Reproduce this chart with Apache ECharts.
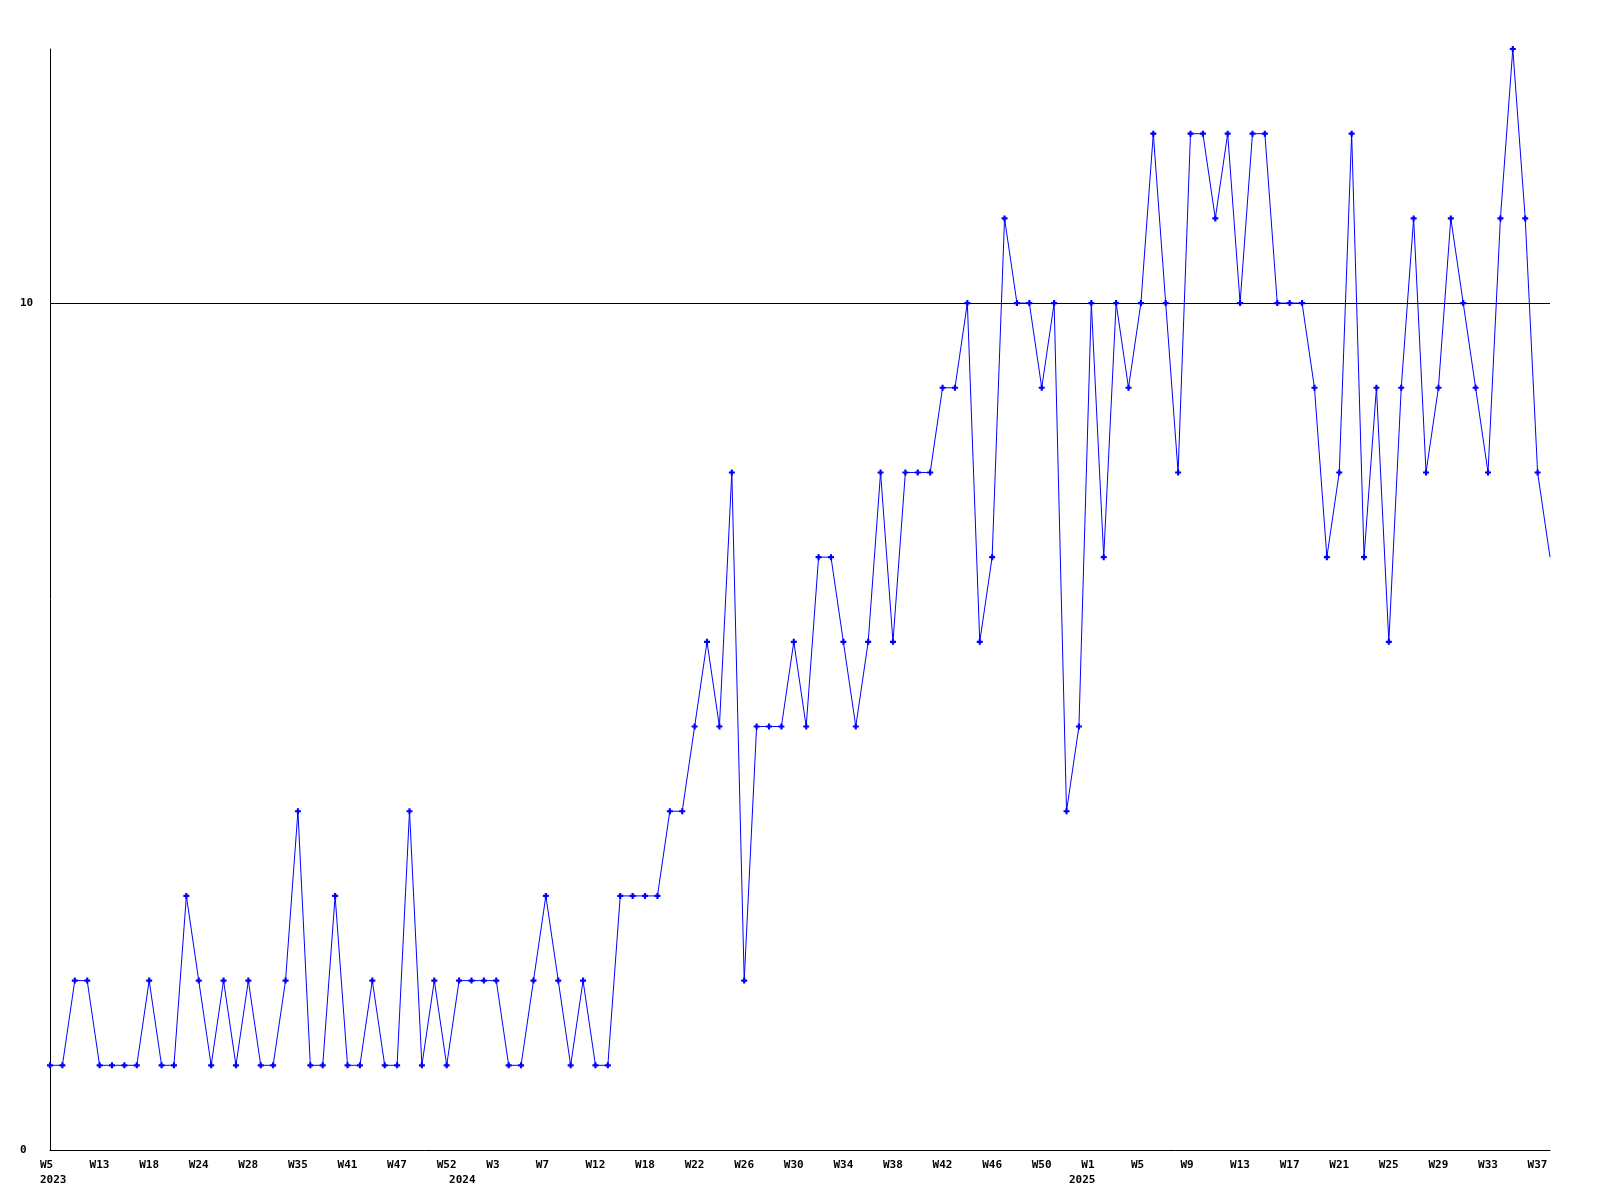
<!DOCTYPE html>
<html>
<head>
<meta charset="utf-8">
<script src="https://cdn.jsdelivr.net/npm/echarts@6/dist/echarts.min.js"></script>
<style>
  html, body { margin: 0; padding: 0; background: #ffffff; }
  #chart { width: 1600px; height: 1200px; }
</style>
</head>
<body>
<div id="chart"></div>
<script>
// Week numbers (per year) of each data point
const weeks2023 = [5,7,9,11,13,14,15,17,18,20,21,23,24,25,26,27,28,30,31,33,35,36,38,39,41,42,44,45,47,48,49,51,52];
const weeks2024 = [0,1,2,3,4,5,6,7,8,10,11,12,14,15,17,18,19,20,21,22,23,24,25,26,27,28,29,30,31,32,33,34,35,36,37,38,39,40,41,42,43,44,45,46,47,48,49,50,51,52];
const weeks2025 = [0,1,2,3,4,5,6,7,8,9,10,11,12,13,14,15,16,17,18,19,20,21,22,23,24,25,26,27,28,29,30,31,32,33,34,35,36,37,38];

// Values per point
const values = [
  1,1,2,2,1,1,1,1,2,1,
  1,3,2,1,2,1,2,1,1,2,
  4,1,1,3,1,1,2,1,1,4,
  1,2,1,2,2,2,2,1,1,2,
  3,2,1,2,1,1,3,3,3,3,
  4,4,5,6,5,8,2,5,5,5,
  6,5,7,7,6,5,6,8,6,8,
  8,8,9,9,10,6,7,11,10,10,
  9,10,4,5,10,7,10,9,10,12,
  10,8,12,12,11,12,10,12,12,10,
  10,10,9,7,8,12,7,9,6,9,
  11,8,9,11,10,9,8,11,13,11,
  8,7
];

const yTickLabels = ['0', '10'];

const categories = [];
const yearOf = [];
[[2023, weeks2023], [2024, weeks2024], [2025, weeks2025]].forEach(([y, ws]) => {
  ws.forEach(w => { categories.push(y + '-W' + w); yearOf.push(y); });
});
const yearStart = new Set();
yearOf.forEach((y, i) => { if (i === 0 || yearOf[i - 1] !== y) yearStart.add(i); });

const seriesData = values.map((v, i) => (i === values.length - 1 ? { value: v, symbol: 'none' } : v));

const chart = echarts.init(document.getElementById('chart'), null, { renderer: 'canvas' });
const font = '"DejaVu Sans Mono", "Liberation Mono", monospace';
chart.setOption({
  backgroundColor: '#ffffff',
  animation: false,
  grid: { left: 50, right: 50, top: 49, bottom: 50, containLabel: false },
  xAxis: {
    type: 'category',
    data: categories,
    boundaryGap: false,
    axisLine: { show: true, lineStyle: { color: '#000000', width: 1 } },
    axisTick: { show: false },
    splitLine: { show: false },
    axisLabel: {
      interval: (i) => i % 4 === 0 || yearStart.has(i),
      align: 'left',
      padding: [0, 0, 0, -10],
      margin: 8,
      color: '#000000',
      fontFamily: font,
      fontWeight: 'bold',
      fontSize: 11,
      lineHeight: 15,
      verticalAlign: 'top',
      formatter: (val, i) => {
        const wk = val.split('-')[1];
        const top = i % 4 === 0 ? wk : '';
        return yearStart.has(i) ? top + '\n' + yearOf[i] : top;
      }
    }
  },
  yAxis: {
    type: 'value',
    min: 0,
    max: 13,
    interval: 10,
    axisLine: { show: true, lineStyle: { color: '#000000', width: 1 } },
    axisTick: { show: false },
    splitLine: { show: true, showMinLine: false, showMaxLine: false, lineStyle: { color: '#000000', width: 1 } },
    axisLabel: {
      align: 'left',
      margin: 30,
      showMaxLabel: false,
      color: '#000000',
      fontFamily: font,
      fontWeight: 'bold',
      fontSize: 11,
      formatter: (v) => (yTickLabels.indexOf(String(v)) >= 0 ? String(v) : '')
    }
  },
  series: [{
    type: 'line',
    data: seriesData,
    symbol: 'path://M1.6,0H3.4V1.6H5V3.4H3.4V5H1.6V3.4H0V1.6H1.6Z',
    symbolSize: 6,
    showAllSymbol: true,
    itemStyle: { color: '#0000ff' },
    lineStyle: { color: '#0000ff', width: 1 },
    clip: true
  }]
});
</script>
</body>
</html>
